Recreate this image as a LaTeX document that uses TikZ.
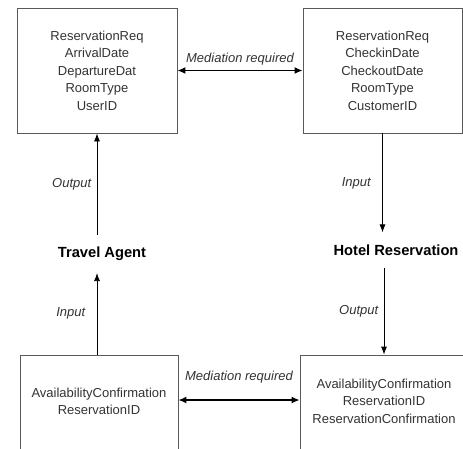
\documentclass[tikz,border=0pt]{standalone}
\usepackage{fontspec}
\setmainfont{Liberation Sans}
\usetikzlibrary{arrows.meta}

\begin{document}
\begin{tikzpicture}[x=1pt,y=-1pt,
        msgbox/.style={rectangle,draw=black!65,line width=0.8pt,align=center,text=black!80,font=\fontsize{13}{17.5}\selectfont,inner sep=0pt},
        service/.style={font=\fontsize{14.7}{17}\selectfont\bfseries,inner xsep=2pt,inner ysep=12pt},
        flow/.style={-{Latex[length=8pt,width=6pt]},line width=0.8pt},
        mediation/.style={{Latex[length=8pt,width=7pt]}-{Latex[length=8pt,width=7pt]},line width=1.4pt},
        lbl/.style={font=\fontsize{13}{15}\selectfont\itshape,text=black!80}]
        \useasboundingbox (0,0) rectangle (463,448);
        \node[msgbox,minimum width=160pt,minimum height=125pt] at (97,70.5) (reqta) {ReservationReq\\ArrivalDate\\DepartureDat\\RoomType\\UserID};
        \node[msgbox,minimum width=159pt,minimum height=125pt] at (382.5,70.5) (reqhr) {ReservationReq\\CheckinDate\\CheckoutDate\\RoomType\\CustomerID};
        \node[msgbox,minimum width=158pt,minimum height=110pt] at (99,410) (avta) {AvailabilityConfirmation\\ReservationID\\\mbox{}};
        \node[msgbox,minimum width=168pt,minimum height=110pt] at (384,410) (avhr) {AvailabilityConfirmation\\ReservationID\\ReservationConfirmation\\\mbox{}};
        \node[service] at (102,254) (ta) {Travel Agent};
        \node[service] at (396,250) (hr) {Hotel Reservation};
        \draw[mediation] (reqta) -- (reqhr) node[midway,above=1pt,lbl] {Mediation required};
        \draw[mediation] ([yshift=10pt]avta.east) -- ([yshift=10pt]avhr.west) node[midway,above=13pt,lbl] {Mediation required};
        \draw[flow] (reqta.south |- ta.north) -- (reqta.south) node[midway,left=2pt,lbl] {Output};
        \draw[flow] (reqta.south |- avta.north) -- (reqta.south |- ta.south) node[midway,left=8pt,lbl] {Input};
        \draw[flow] (reqhr.south) -- (reqhr.south |- hr.north) node[midway,left=8pt,lbl] {Input};
        \draw[flow] (avhr.north |- hr.south) -- (avhr.north) node[midway,left=2pt,lbl] {Output};
    \end{tikzpicture}
\end{document}
